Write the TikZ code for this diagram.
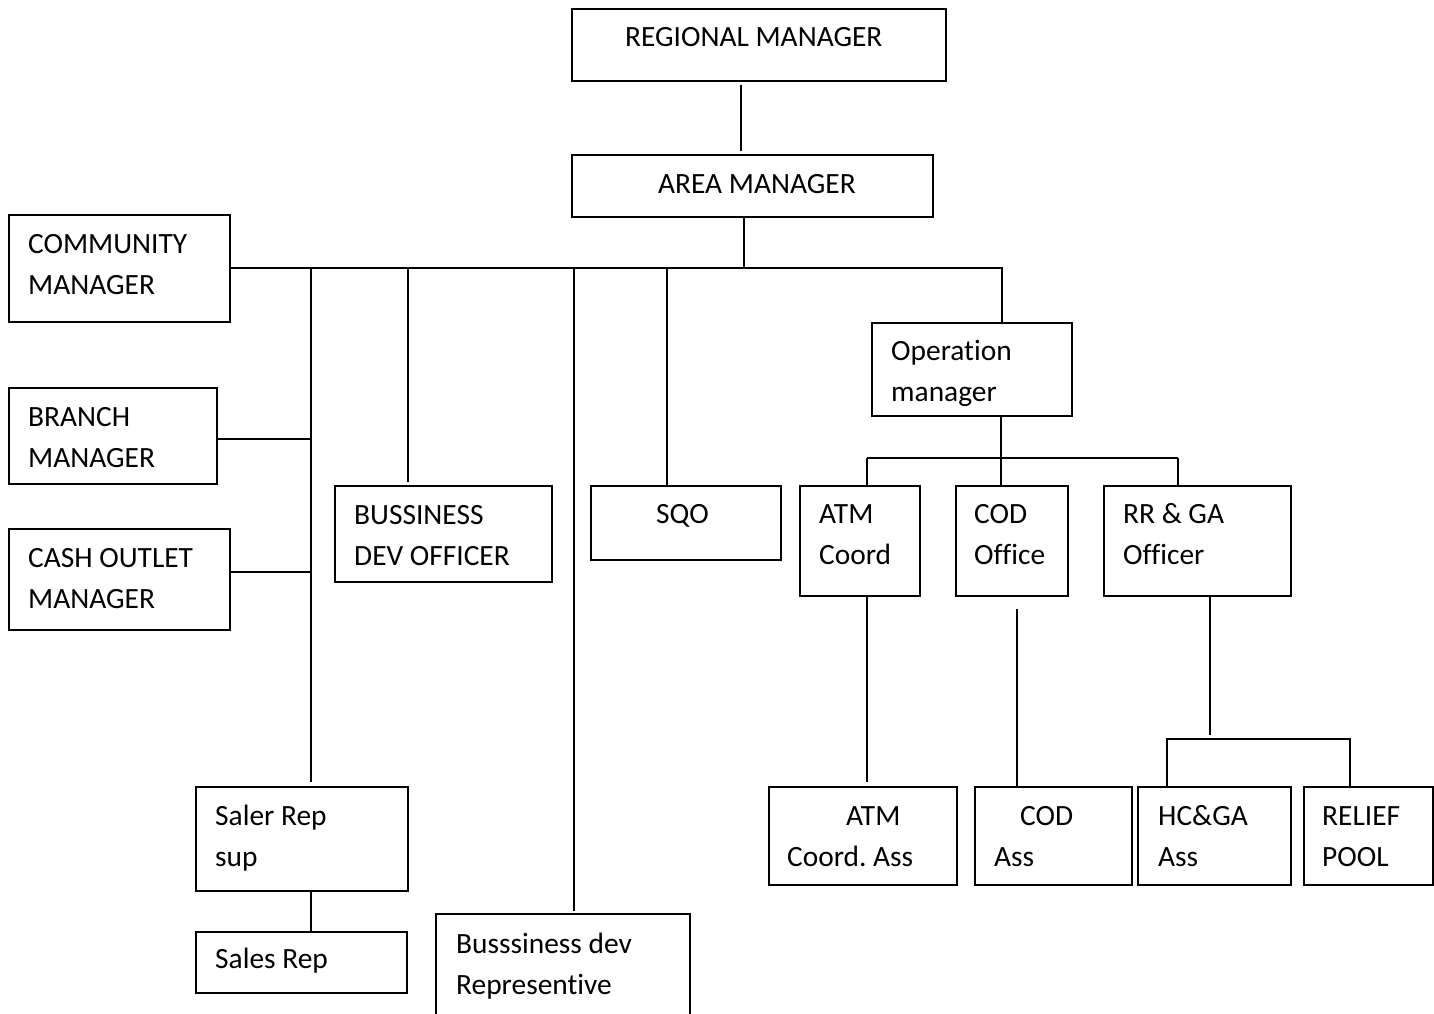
\documentclass[tikz,border=0pt]{standalone}
\usepackage{fontspec}
\setmainfont{Carlito}[Ligatures=NoCommon]
\usetikzlibrary{fit}
\newcommand\twoln[2]{\begin{tabular}[t]{@{}l@{}}#1\\#2\end{tabular}}
\begin{document}
\begin{tikzpicture}[x=1pt,y=-1pt,
  obox/.style={draw, line width=1.8pt, inner sep=0pt, rectangle},
  otext/.style={anchor=base west, inner sep=0pt, font=\fontsize{29.4}{41.5}\selectfont},
  conn/.style={line width=1.8pt}]
\useasboundingbox (0,0) rectangle (1434,1013);
\fill[white] (0,0) rectangle (1434,1013);
% boxes
\node[obox, fit={(572,9) (946,81)}] (rm) {};
\node[otext] (rmt) at (625,46) {REGIONAL MANAGER};
\node[obox, fit={(572,155) (933,217)}] (am) {};
\node[otext] (amt) at (658,193) {AREA MANAGER};
\node[obox, fit={(9,215) (230,322)}] (cm) {};
\node[otext] (cmt) at (28,253) {\twoln{COMMUNITY}{MANAGER}};
\node[obox, fit={(9,388) (217,484)}] (bm) {};
\node[otext] (bmt) at (28,426) {\twoln{BRANCH}{MANAGER}};
\node[obox, fit={(9,529) (230,630)}] (com) {};
\node[otext] (comt) at (28,567) {\twoln{CASH OUTLET}{MANAGER}};
\node[obox, fit={(335,486) (552,582)}] (bdo) {};
\node[otext] (bdot) at (354,524) {\twoln{BUSSINESS}{DEV OFFICER}};
\node[obox, fit={(591,486) (781,560)}] (sqo) {};
\node[otext] (sqot) at (656,523) {SQO};
\node[obox, fit={(872,323) (1072,416)}] (om) {};
\node[otext] (omt) at (891,360) {\twoln{Operation}{manager}};
\node[obox, fit={(800,486) (920,596)}] (atm) {};
\node[otext] (atmt) at (819,523) {\twoln{ATM}{Coord}};
\node[obox, fit={(956,486) (1068,596)}] (cod) {};
\node[otext] (codt) at (974,523) {\twoln{COD}{Office}};
\node[obox, fit={(1104,486) (1291,596)}] (rr) {};
\node[otext] (rrt) at (1123,523) {\twoln{RR \& GA}{Officer}};
\node[obox, fit={(769,787) (957,885)}] (atma) {};
\node[otext] (atmat) at (787,825) {\twoln{\hspace*{59pt}ATM}{Coord.\ Ass}};
\node[obox, fit={(975,787) (1132,885)}] (coda) {};
\node[otext] (codat) at (994,825) {\twoln{\hspace*{26pt}COD}{Ass}};
\node[obox, fit={(1138,787) (1291,885)}] (hcga) {};
\node[otext] (hcgat) at (1158,825) {\twoln{HC\&GA}{Ass}};
\node[obox, fit={(1304,787) (1433,885)}] (rp) {};
\node[otext] (rpt) at (1322,825) {\twoln{RELIEF}{POOL}};
\node[obox, fit={(196,787) (408,891)}] (srs) {};
\node[otext] (srst) at (215,825) {\twoln{Saler Rep}{sup}};
\node[obox, fit={(196,932) (407,993)}] (sr) {};
\node[otext] (srt) at (215,968) {Sales Rep};
\node[obox, fit={(436,914) (690,1040)}] (bdr) {};
\node[otext] (bdrt) at (456,953) {\twoln{Busssiness dev}{Representive}};
% helper coordinates
\coordinate (v741) at (741,0);
\coordinate (v744) at (744,0);
\coordinate (bus) at (0,268);
\coordinate (v311) at (311,0);
\coordinate (v408) at (408,0);
\coordinate (v574) at (574,0);
\coordinate (v667) at (667,0);
\coordinate (v1002) at (1002,0);
\coordinate (bus2) at (0,458);
\coordinate (v867) at (867,0);
\coordinate (v1001) at (1001,0);
\coordinate (v1178) at (1178,0);
\coordinate (v1017) at (1017,0);
\coordinate (v1210) at (1210,0);
\coordinate (bus3) at (0,739);
\coordinate (v1167) at (1167,0);
\coordinate (v1350) at (1350,0);
\coordinate (bmj) at ([yshift=-3pt]bm.east);
\coordinate (comj) at ([yshift=7.5pt]com.east);
% connectors
\draw[conn, shorten <=3pt, shorten >=3pt] (rm.south -| v741) -- (am.north -| v741);
\draw[conn] (am.south -| v744) -- (bus -| v744);
\draw[conn] (cm.east |- bus) -- (bus -| v1002) -- (om.north -| v1002);
\draw[conn, shorten >=4pt] (bus -| v311) -- (srs.north -| v311);
\draw[conn, shorten >=3pt] (bus -| v408) -- (bdo.north -| v408);
\draw[conn, shorten >=2pt] (bus -| v574) -- (bdr.north -| v574);
\draw[conn] (bus -| v667) -- (sqo.north -| v667);
\draw[conn] (bmj) -- (bmj -| v311);
\draw[conn] (comj) -- (comj -| v311);
\draw[conn] (srs.south -| v311) -- (sr.north -| v311);
\draw[conn] (om.south -| v1001) -- (cod.north -| v1001);
\draw[conn] (bus2 -| v867) -- (bus2 -| v1178);
\draw[conn] (bus2 -| v867) -- (atm.north -| v867);
\draw[conn] (bus2 -| v1178) -- (rr.north -| v1178);
\draw[conn, shorten >=4pt] (atm.south -| v867) -- (atma.north -| v867);
\draw[conn, shorten <=12pt] (cod.south -| v1017) -- (coda.north -| v1017);
\draw[conn, shorten >=4pt] (rr.south -| v1210) -- (bus3 -| v1210);
\draw[conn] (hcga.north -| v1167) -- (bus3 -| v1167) -- (bus3 -| v1350) -- (rp.north -| v1350);
\end{tikzpicture}
\end{document}
